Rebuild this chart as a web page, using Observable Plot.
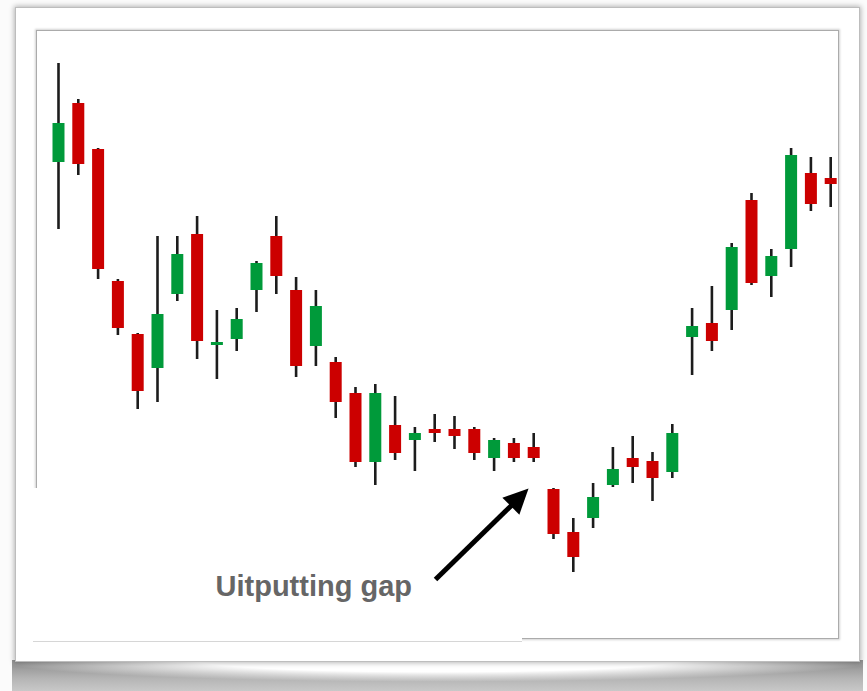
<!DOCTYPE html>
<html>
<head>
<meta charset="utf-8">
<script src="https://cdn.jsdelivr.net/npm/d3@7"></script>
<script src="https://cdn.jsdelivr.net/npm/@observablehq/plot@0.6"></script>
<style>
  html, body { margin: 0; padding: 0; background: #ffffff; }
  #page { position: relative; width: 867px; height: 691px; overflow: hidden; background: #fbfbfb; }
  #shadow { position: absolute; left: 12px; top: 660px; width: 851px; height: 31px;
    background:
      radial-gradient(ellipse 52% 70% at 50% 0%, rgba(255,255,255,1) 55%, rgba(255,255,255,0) 100%),
      linear-gradient(to bottom, #8a8a8a 0%, #b5b5b5 60%, #c8c8c8 100%); }
  #card { position: absolute; left: 15px; top: 7px; width: 845px; height: 655px; box-sizing: border-box;
    background: #ffffff; border: 1px solid #bdbdbd; box-shadow: 0 0 5px 1px rgba(0,0,0,0.28); }
  #frame { position: absolute; left: 36px; top: 30px; width: 803px; height: 609px; box-sizing: border-box;
    border: 1px solid #ababab; box-shadow: 0 0 2px 1px rgba(0,0,0,0.18); background: #fff; }
  #patch { position: absolute; left: 33px; top: 488px; width: 489px; height: 154px; box-sizing: border-box;
    background: #ffffff; border-bottom: 1px solid #d6d6d6; }
  #chart { position: absolute; left: 0; top: 0; }
  #chart svg { background: transparent !important; overflow: visible; }
</style>
</head>
<body>
<div id="page">
  <div id="shadow"></div>
  <div id="card"></div>
  <div id="frame"></div>
  <div id="patch"></div>
  <div id="chart"></div>
</div>
<script>
// Candle data (40 sessions), arbitrary price units
const days   = d3.range(1, 41);
const opens  = [107.6,119.4,110.2,83.8,73.2,66.4,81.2,93.2,71,72.2,82,92.8,82,70.8,67.6,61.4,47.6,55,52,54.2,54.2,54.2,48.4,51.4,50.6,42.2,33.6,36.4,43,48.4,47.8,45.6,72.6,75.4,78,100,84.8,90.2,105.4,104.4];
const highs  = [127.4,120.2,110.4,84.2,73.4,92.8,92.8,96.8,78,78.4,87.8,96.8,84.6,82,68.6,62.6,63.2,60.8,54.6,57.2,56.8,54.6,52.4,52.4,53.4,42.4,36.4,43.4,50.6,52.8,49.6,55.2,78.4,82.8,91.4,101.4,90.2,110.4,108.6,108.6];
const lows   = [94.2,105,84.2,73,58.2,59.6,79.8,68.2,64.2,69.8,77.6,81.2,64.6,66.8,56.4,46.6,43,48,45.8,51.6,50.2,48,45.8,47.6,47.6,32.2,25.6,34.4,42.6,43.4,39.8,44.4,65,69.8,74,83,80.6,86.6,97.8,98.6];
const closes = [115.4,107.2,86.2,74.4,61.8,77.2,89.2,71.8,71.6,76.2,87.4,84.8,66.8,78.8,59.6,47.6,61.4,49.4,53.4,53.4,52.8,49.4,52,48.4,48.4,33.2,28.6,40.6,46.2,46.6,44.4,53.4,74.8,71.8,90.6,83.4,88.8,109,99.2,103.2];

// Annotation (in data units: day, price)
const labelText  = ["Uitputting gap"];
const labelDay   = [8.93];
const labelPrice = [22.66];
const arrowTail  = [20.04, 24.2];
const arrowBase  = [24.03, 39.6];
const arrowTip   = [24.74, 42.4];

const candles = days.map((d, i) => ({
  day: d, open: opens[i], high: highs[i], low: lows[i], close: closes[i],
  up: closes[i] >= opens[i]
}));

const arrowHead = {
  draw(context, size) {
    const r = Math.sqrt(size / Math.PI);
    const len = 2.5 * r, half = 1.2 * r;
    context.moveTo(0, 0);
    context.lineTo(half, len);
    context.lineTo(-half, len);
    context.closePath();
  }
};

const chart = Plot.plot({
  width: 867,
  height: 691,
  marginLeft: 36,
  marginRight: 29,
  marginTop: 30,
  marginBottom: 51,
  x: {type: "linear", domain: [-0.111, 40.394], axis: null},
  y: {type: "linear", domain: [12, 134], axis: null},
  style: {background: "transparent"},
  marks: [
    Plot.ruleX(candles, {x: "day", y1: "low", y2: "high", stroke: "#1c1c1c", strokeWidth: 2.6}),
    Plot.ruleX(candles, {x: "day", y1: "open", y2: "close",
      stroke: d => d.up ? "#009a3a" : "#cc0000", strokeWidth: 12, strokeLinecap: "butt"}),
    Plot.link([0], {x1: () => arrowTail[0], y1: () => arrowTail[1], x2: () => arrowBase[0], y2: () => arrowBase[1],
      stroke: "#000", strokeWidth: 5, strokeLinecap: "butt"}),
    Plot.dot([0], {x: () => arrowTip[0], y: () => arrowTip[1], symbol: arrowHead, r: 10, fill: "#000", stroke: null, rotate: 45}),
    Plot.text(labelText, {x: (d, i) => labelDay[i], y: (d, i) => labelPrice[i], text: d => d,
      textAnchor: "start", fontSize: 29, fontWeight: "bold", fill: "#666666",
      fontFamily: "Liberation Sans, Arial, sans-serif"})
  ]
});
document.getElementById("chart").appendChild(chart);
</script>
</body>
</html>
